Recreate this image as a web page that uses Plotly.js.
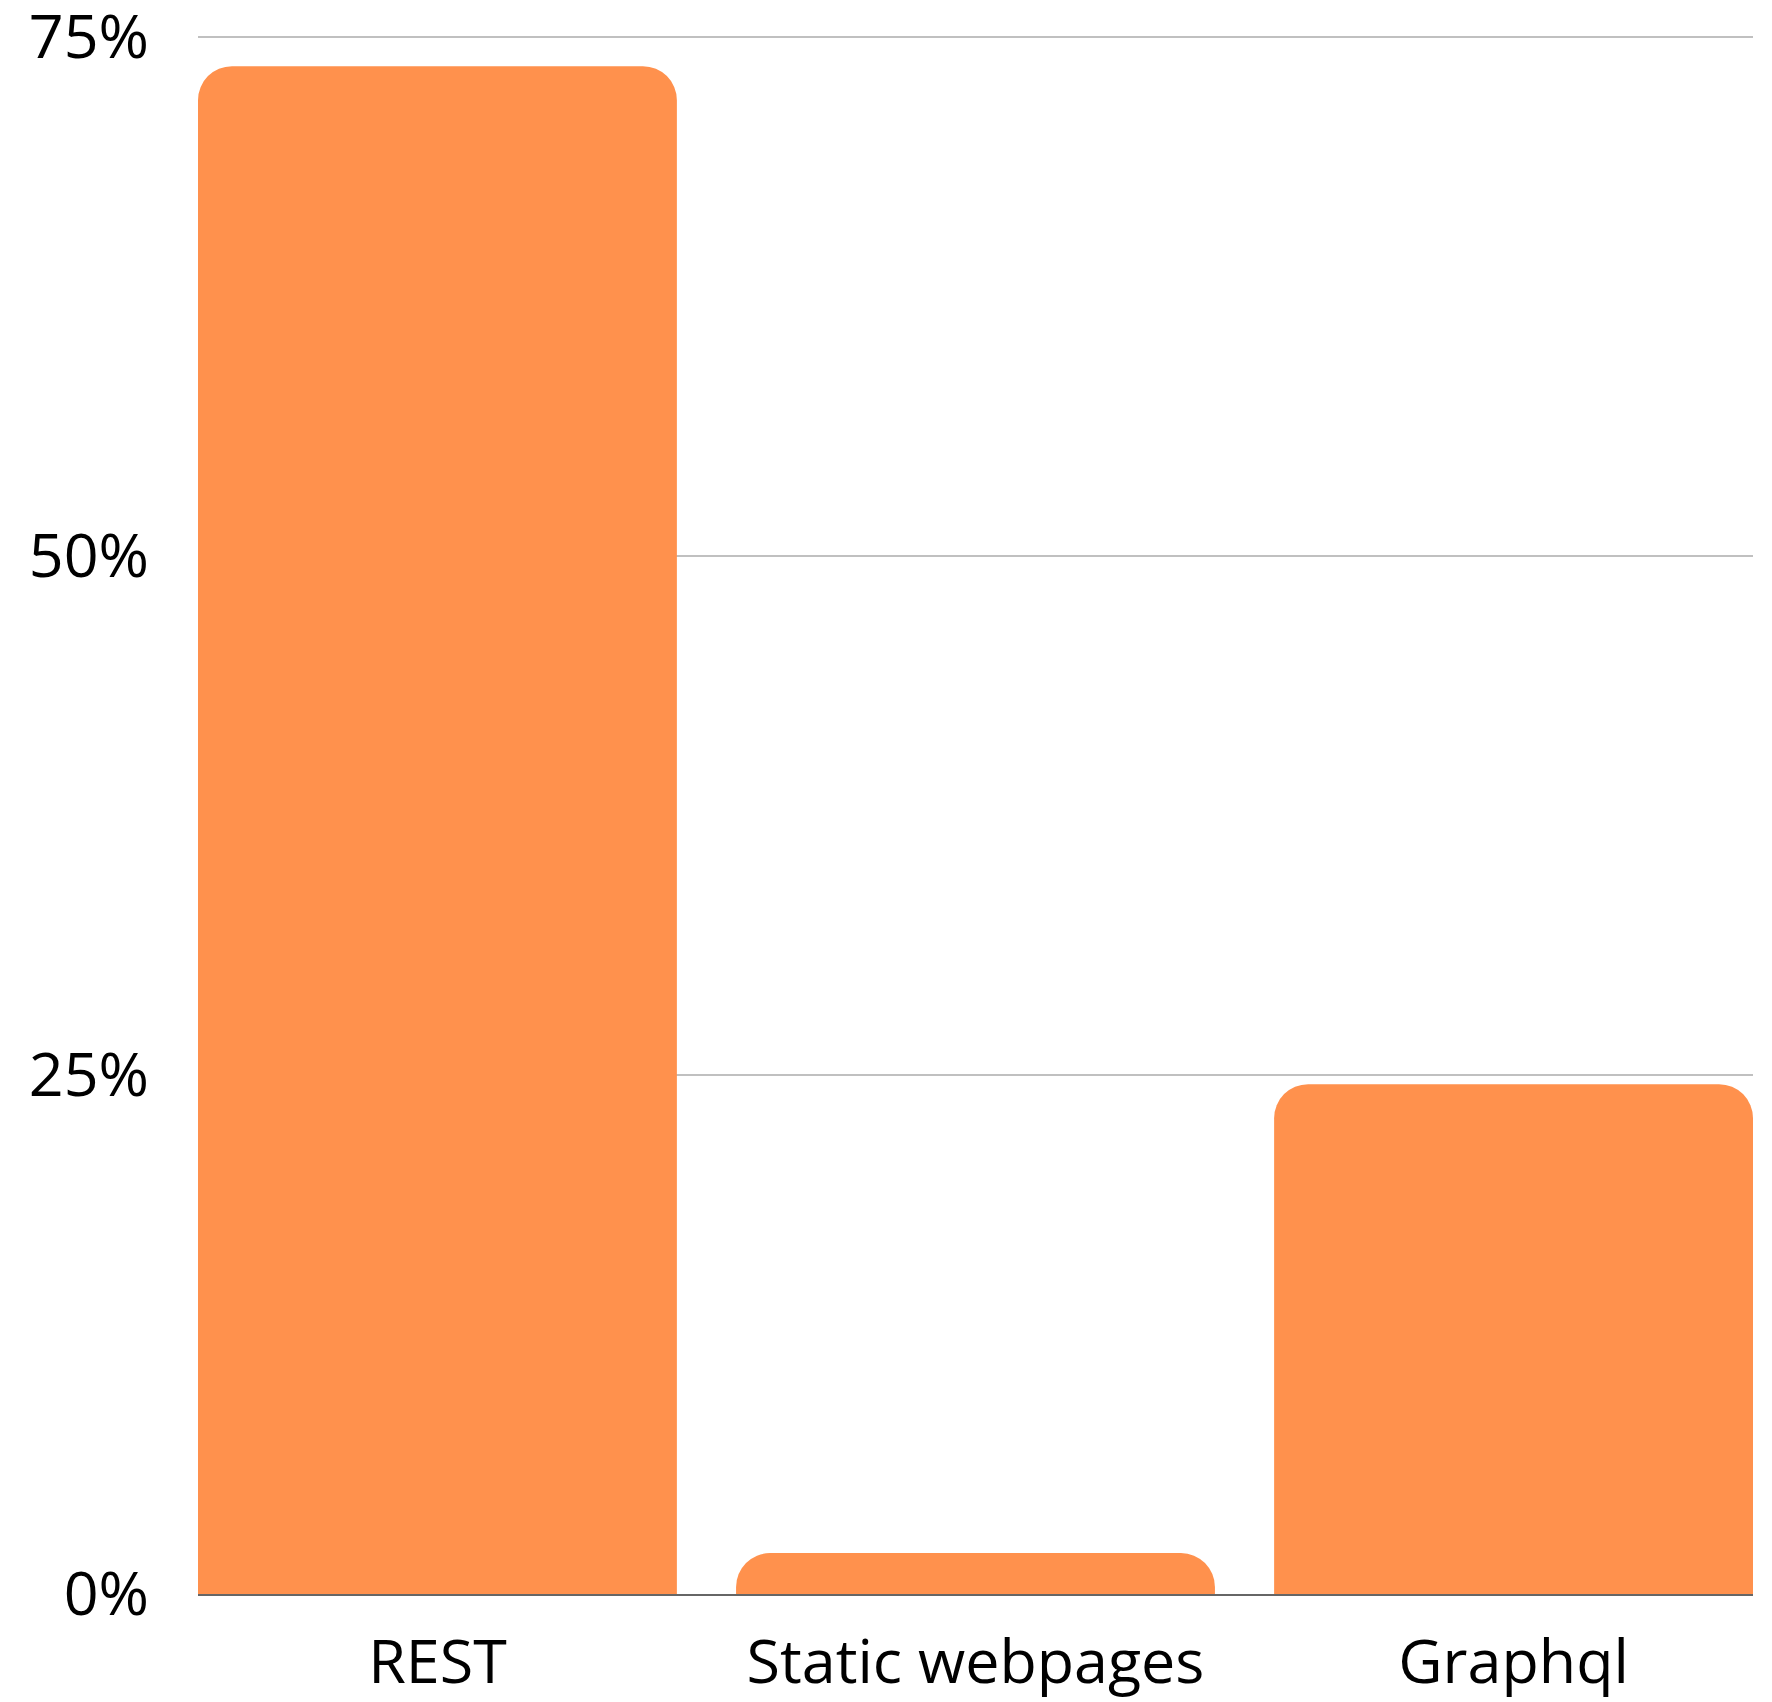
<!DOCTYPE html>
<html>
<head>
<meta charset="utf-8">
<script src="https://cdn.plot.ly/plotly-3.0.1.min.js"></script>
<style>
  html, body { margin: 0; padding: 0; background: #ffffff; }
  #chart { width: 1772px; height: 1702px; }
</style>
</head>
<body>
<div id="chart"></div>
<script>
const categories = ["REST", "Static webpages", "Graphql"];
const shares = [73.6, 1.97, 24.56];
const yTickValues = [0, 25, 50, 75];
const yTickLabels = ["0%", "25%", "50%", "75%"];

const gap = 0.11;

const trace = {
  type: "bar",
  x: categories,
  y: shares,
  marker: { color: "#FF914D", cornerradius: 34, line: { width: 0 } },
  hoverinfo: "skip",
  cliponaxis: false
};

const layout = {
  width: 1772,
  height: 1702,
  margin: { l: 198, r: 19, t: 35, b: 108, pad: 0 },
  paper_bgcolor: "#ffffff",
  plot_bgcolor: "#ffffff",
  bargap: gap,
  showlegend: false,
  font: { family: "Open Sans, sans-serif", size: 61, color: "#000000" },
  xaxis: {
    type: "category",
    range: [-0.5 + gap / 2, 2.5 - gap / 2],
    showgrid: false,
    zeroline: false,
    showline: true,
    linecolor: "#666666",
    linewidth: 2,
    ticks: "",
    ticklabelstandoff: 14,
    ticklabeloverflow: "allow",
    tickfont: { family: "Open Sans, sans-serif", size: 61, color: "#000000" }
  },
  yaxis: {
    range: [0, 75.1],
    tickvals: yTickValues,
    ticktext: yTickLabels,
    showgrid: true,
    gridcolor: "#c0c0c0",
    gridwidth: 2,
    zeroline: false,
    showline: false,
    ticks: "",
    ticklabelstandoff: 48,
    ticklabeloverflow: "allow",
    tickfont: { family: "Open Sans, sans-serif", size: 61, color: "#000000" }
  }
};

Plotly.newPlot("chart", [trace], layout, { displayModeBar: false, staticPlot: true });
</script>
</body>
</html>
